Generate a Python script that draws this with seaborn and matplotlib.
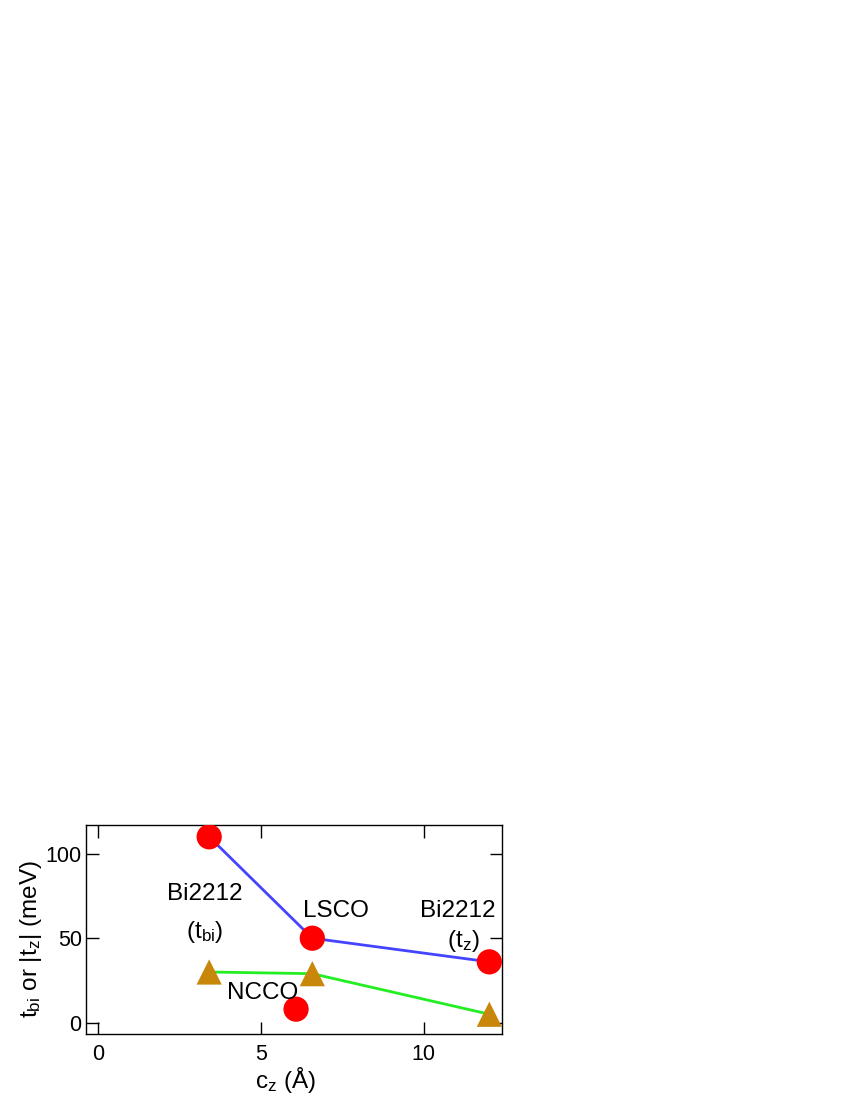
import pandas as pd
import matplotlib
matplotlib.use("Agg")
import matplotlib.pyplot as plt
import seaborn as sns

# data
circle_names = ["Bi2212 (t_bi)", "LSCO", "Bi2212 (t_z)"]
circle_cz = [3.41, 6.58, 12.02]
circle_t = [110, 50, 36]

ncco_cz = [6.08]
ncco_t = [8]

tri_cz = [3.41, 6.58, 12.02]
tri_t = [30, 29, 5]

x_ticks = [0, 5, 10]
y_ticks = [0, 50, 100]

sns.set_style("ticks")
plt.rcParams["font.family"] = ["Liberation Sans", "DejaVu Sans"]
plt.rcParams["mathtext.fontset"] = "custom"
plt.rcParams["mathtext.rm"] = "Liberation Sans"
plt.rcParams["mathtext.it"] = "Liberation Sans"
plt.rcParams["text.color"] = "black"
plt.rcParams["axes.labelcolor"] = "black"
plt.rcParams["xtick.color"] = "black"
plt.rcParams["ytick.color"] = "black"

circles = pd.DataFrame({"cz": circle_cz, "t": circle_t, "name": circle_names})
tris = pd.DataFrame({"cz": tri_cz, "t": tri_t})
ncco = pd.DataFrame({"cz": ncco_cz, "t": ncco_t})

fig = plt.figure(figsize=(8.5, 11), dpi=100)
ax = fig.add_axes([0.101, 0.06, 0.49, 0.19])

sns.lineplot(data=tris, x="cz", y="t", color="#22ee22", lw=2, ax=ax, sort=False)
sns.lineplot(data=circles, x="cz", y="t", color="#4444ff", lw=2, ax=ax, sort=False)
sns.scatterplot(data=tris, x="cz", y="t", marker="^", s=330, color="#c8860b",
                edgecolor="none", ax=ax, zorder=3)
sns.scatterplot(data=circles, x="cz", y="t", marker="o", s=330, color="#ff0000",
                edgecolor="none", ax=ax, zorder=3)
sns.scatterplot(data=ncco, x="cz", y="t", marker="o", s=330, color="#ff0000",
                edgecolor="none", ax=ax, zorder=3)

ax.set_xlim(-0.38, 12.42)
ax.set_ylim(-6.7, 117)
ax.set_xticks(x_ticks)
ax.set_yticks(y_ticks)
ax.tick_params(direction="in", length=9, width=1, top=True, right=True,
               labelsize=15.5)
ax.tick_params(axis="x", pad=7)
ax.tick_params(axis="y", pad=3)
for sp in ax.spines.values():
    sp.set_linewidth(1)
    sp.set_color("black")

ax.set_xlabel(r"c$_{\rm z}$ ($\rm\AA$)", fontsize=17.5)
ax.set_ylabel(r"t$_{\rm bi}$ or |t$_{\rm z}$| (meV)", fontsize=17.5)
ax.xaxis.set_label_coords(0.48, -0.15)
ax.yaxis.set_label_coords(-0.1, 0.455)

fs = 17.5
ax.text(3.28, 76, "Bi2212", fontsize=fs, ha="center", va="center")
ax.text(3.28, 53.5, r"(t$_{\rm bi}$)", fontsize=fs, ha="center", va="center")
ax.text(7.3, 66, "LSCO", fontsize=fs, ha="center", va="center")
ax.text(11.05, 66, "Bi2212", fontsize=fs, ha="center", va="center")
ax.text(11.22, 48.5, r"(t$_{\rm z}$)", fontsize=fs, ha="center", va="center")
ax.text(5.05, 17.5, "NCCO", fontsize=fs, ha="center", va="center")

fig.savefig("out.png", dpi=100)
